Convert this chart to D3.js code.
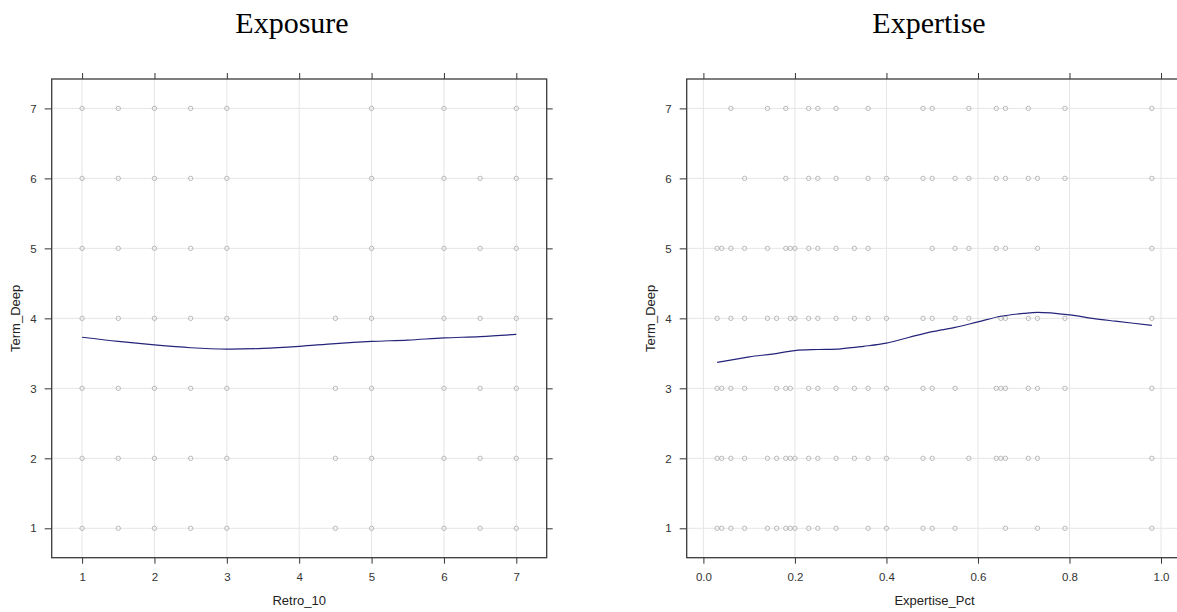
<!DOCTYPE html>
<html>
<head>
<meta charset="utf-8">
<script src="https://cdn.jsdelivr.net/npm/d3@7"></script>
<style>
  body { margin: 0; background: #fff; }
  svg { display: block; }
  .tick text { font-family: "Liberation Sans", Arial, sans-serif; font-size: 11.5px; fill: #333; }
  .tick line { stroke: #333; }
</style>
</head>
<body>
<div id="chart"></div>
<script>
// ---- data ----
var deepTicks = [1, 2, 3, 4, 5, 6, 7];

// Exposure panel: Retro_10 values present at each Term_Deep level
var exposureTicks = [1, 2, 3, 4, 5, 6, 7];
var exposureAt7 = [1, 1.5, 2, 2.5, 3, 5, 6, 7];
var exposureAt6 = [1, 1.5, 2, 2.5, 3, 5, 6, 6.5, 7];
var exposureAt5 = [1, 1.5, 2, 2.5, 3, 5, 6, 6.5, 7];
var exposureAt4 = [1, 1.5, 2, 2.5, 3, 4.5, 5, 6, 6.5, 7];
var exposureAt3 = [1, 1.5, 2, 2.5, 3, 4.5, 5, 6, 6.5, 7];
var exposureAt2 = [1, 1.5, 2, 2.5, 3, 4.5, 5, 6, 6.5, 7];
var exposureAt1 = [1, 1.5, 2, 2.5, 3, 4.5, 5, 6, 6.5, 7];
var exposureSmoothX = [1, 1.5, 2, 2.5, 3, 3.5, 4, 4.5, 5, 5.5, 6, 6.5, 7];
var exposureSmoothY = [3.73, 3.67, 3.62, 3.58, 3.56, 3.57, 3.60, 3.64, 3.67, 3.69, 3.72, 3.74, 3.77];

// Expertise panel: Expertise_Pct values present at each Term_Deep level
var expertiseTicks = [0, 0.2, 0.4, 0.6, 0.8, 1.0];
var expertiseAt7 = [0.06, 0.14, 0.18, 0.23, 0.25, 0.29, 0.36, 0.48, 0.50, 0.58, 0.64, 0.66, 0.71, 0.79, 0.98];
var expertiseAt6 = [0.09, 0.18, 0.23, 0.25, 0.29, 0.36, 0.40, 0.48, 0.50, 0.55, 0.58, 0.64, 0.66, 0.71, 0.73, 0.79, 0.98];
var expertiseAt5 = [0.03, 0.04, 0.06, 0.09, 0.14, 0.18, 0.19, 0.20, 0.23, 0.25, 0.29, 0.33, 0.36, 0.50, 0.55, 0.58, 0.64, 0.66, 0.73, 0.98];
var expertiseAt4 = [0.03, 0.06, 0.09, 0.14, 0.16, 0.19, 0.20, 0.23, 0.25, 0.29, 0.33, 0.36, 0.40, 0.48, 0.50, 0.55, 0.58, 0.65, 0.66, 0.71, 0.73, 0.79, 0.98];
var expertiseAt3 = [0.03, 0.04, 0.06, 0.09, 0.16, 0.18, 0.19, 0.23, 0.25, 0.29, 0.33, 0.36, 0.40, 0.48, 0.50, 0.55, 0.64, 0.65, 0.66, 0.71, 0.73, 0.79, 0.98];
var expertiseAt2 = [0.03, 0.04, 0.06, 0.09, 0.14, 0.16, 0.18, 0.19, 0.20, 0.23, 0.25, 0.29, 0.33, 0.36, 0.40, 0.48, 0.50, 0.58, 0.64, 0.65, 0.66, 0.71, 0.73, 0.98];
var expertiseAt1 = [0.03, 0.04, 0.06, 0.09, 0.14, 0.16, 0.18, 0.19, 0.20, 0.23, 0.25, 0.29, 0.36, 0.40, 0.48, 0.50, 0.55, 0.66, 0.73, 0.79, 0.98];
var expertiseSmoothX = [0.03, 0.1, 0.15, 0.2, 0.25, 0.3, 0.35, 0.4, 0.45, 0.5, 0.55, 0.6, 0.65, 0.7, 0.73, 0.8, 0.85, 0.9, 0.98];
var expertiseSmoothY = [3.37, 3.45, 3.49, 3.54, 3.555, 3.565, 3.60, 3.645, 3.73, 3.81, 3.87, 3.95, 4.03, 4.07, 4.085, 4.05, 4.0, 3.96, 3.90];

var width = 1177, height = 612;

var svg = d3.select("#chart").append("svg")
    .attr("width", width)
    .attr("height", height);

svg.append("rect").attr("width", width).attr("height", height).attr("fill", "#fff");

// turn the per-level arrays into [x, y] pairs
function toPoints(rows) {
    var pts = [];
    rows.forEach(function(xs, i) {
        var level = 7 - i;
        xs.forEach(function(v) { pts.push([v, level]); });
    });
    return pts;
}

function drawPanel(cfg) {
    var x = d3.scaleLinear().domain(cfg.xDomain).range([cfg.left, cfg.right]);
    var y = d3.scaleLinear().domain([0.58, 7.42]).range([557.7, 79]);
    var top = 79, bottom = 557.7;

    var g = svg.append("g");

    // grid
    g.selectAll(".vgrid").data(cfg.xTicks).enter().append("line")
        .attr("x1", function(d) { return x(d); })
        .attr("x2", function(d) { return x(d); })
        .attr("y1", top).attr("y2", bottom)
        .attr("stroke", "#e6e6e6").attr("stroke-width", 1);
    g.selectAll(".hgrid").data(deepTicks).enter().append("line")
        .attr("x1", cfg.left).attr("x2", cfg.right)
        .attr("y1", function(d) { return y(d); })
        .attr("y2", function(d) { return y(d); })
        .attr("stroke", "#e6e6e6").attr("stroke-width", 1);

    // points
    g.selectAll(".pt").data(toPoints(cfg.rows)).enter().append("circle")
        .attr("cx", function(d) { return x(d[0]); })
        .attr("cy", function(d) { return y(d[1]); })
        .attr("r", 2.2)
        .attr("fill", "none")
        .attr("stroke", "#a9a9a9")
        .attr("stroke-width", 0.8);

    // smooth line
    var line = d3.line()
        .x(function(d) { return x(d[0]); })
        .y(function(d) { return y(d[1]); })
        .curve(d3.curveCatmullRom);
    g.append("path")
        .datum(cfg.smoothX.map(function(v, i) { return [v, cfg.smoothY[i]]; }))
        .attr("d", line)
        .attr("fill", "none")
        .attr("stroke", "#24247a")
        .attr("stroke-width", 1.2);

    // axes
    var fmt = cfg.format;
    var ax = g.append("g").attr("transform", "translate(0," + bottom + ")")
        .call(d3.axisBottom(x).tickValues(cfg.xTicks).tickSize(6).tickPadding(9.5).tickFormat(fmt));
    var axTop = g.append("g").attr("transform", "translate(0," + top + ")")
        .call(d3.axisTop(x).tickValues(cfg.xTicks).tickSize(6).tickFormat(""));
    var ay = g.append("g").attr("transform", "translate(" + cfg.left + ",0)")
        .call(d3.axisLeft(y).tickValues(deepTicks).tickSize(7).tickPadding(8).tickFormat(d3.format("d")));
    var ayR = g.append("g").attr("transform", "translate(" + cfg.right + ",0)")
        .call(d3.axisRight(y).tickValues(deepTicks).tickSize(6).tickFormat(""));
    [ax, axTop, ay, ayR].forEach(function(a) { a.select(".domain").remove(); });

    // frame
    g.append("rect")
        .attr("x", cfg.left).attr("y", top)
        .attr("width", cfg.right - cfg.left).attr("height", bottom - top)
        .attr("fill", "none").attr("stroke", "#3a3a3a").attr("stroke-width", 1.3);

    // labels
    g.append("text")
        .attr("x", (cfg.left + cfg.right) / 2).attr("y", 605)
        .attr("text-anchor", "middle")
        .style("font-family", "Liberation Sans, Arial, sans-serif")
        .style("font-size", "13px").style("fill", "#222")
        .text(cfg.xLabel);
    g.append("text")
        .attr("transform", "translate(" + cfg.yLabelX + "," + (top + bottom) / 2 + ") rotate(-90)")
        .attr("text-anchor", "middle")
        .attr("dy", "0.35em")
        .style("font-family", "Liberation Sans, Arial, sans-serif")
        .style("font-size", "13px").style("fill", "#222")
        .text("Term_Deep");
    g.append("text")
        .attr("x", cfg.titleX).attr("y", 33)
        .attr("text-anchor", "middle")
        .style("font-family", "Liberation Serif, Times New Roman, serif")
        .style("font-size", "30px").style("fill", "#000")
        .text(cfg.title);
}

drawPanel({
    left: 51.7, right: 546.7,
    xDomain: [0.58, 7.42],
    xTicks: exposureTicks,
    format: d3.format("d"),
    rows: [exposureAt7, exposureAt6, exposureAt5, exposureAt4, exposureAt3, exposureAt2, exposureAt1],
    smoothX: exposureSmoothX, smoothY: exposureSmoothY,
    xLabel: "Retro_10", yLabelX: 15, title: "Exposure", titleX: 292
});

drawPanel({
    left: 686.7, right: 1182.3,
    xDomain: [-0.0365, 1.0465],
    xTicks: expertiseTicks,
    format: d3.format(".1f"),
    rows: [expertiseAt7, expertiseAt6, expertiseAt5, expertiseAt4, expertiseAt3, expertiseAt2, expertiseAt1],
    smoothX: expertiseSmoothX, smoothY: expertiseSmoothY,
    xLabel: "Expertise_Pct", yLabelX: 650, title: "Expertise", titleX: 929
});
</script>
</body>
</html>
